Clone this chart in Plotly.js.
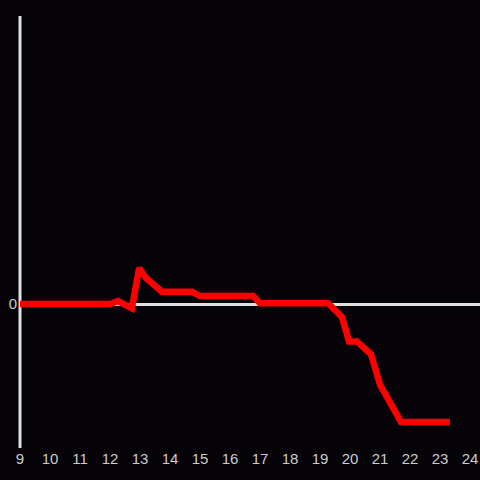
<!DOCTYPE html>
<html>
<head>
<meta charset="utf-8">
<script src="https://cdn.plot.ly/plotly-3.0.1.min.js"></script>
<style>html,body{margin:0;padding:0;background:#050308;}#chart{width:480px;height:480px;}</style>
</head>
<body>
<div id="chart"></div>
<script>
const hours = [9, 12.0, 12.27, 12.73, 12.97, 13.2, 13.73, 14.73, 15.0, 16.77, 17.0, 19.27, 19.73, 19.97, 20.23, 20.7, 21.0, 21.7, 23.33];
const values = [0, 0, 0.02, -0.03, 0.25, 0.18, 0.085, 0.085, 0.055, 0.055, 0.005, 0.005, -0.09, -0.26, -0.26, -0.35, -0.56, -0.82, -0.82];
const xTicks = [9,10,11,12,13,14,15,16,17,18,19,20,21,22,23,24];

Plotly.newPlot('chart', [{
  x: hours, y: values, type: 'scatter', mode: 'lines',
  line: {color: '#ff0000', width: 6.5}, hoverinfo: 'skip'
}], {
  width: 480, height: 480,
  paper_bgcolor: '#050308', plot_bgcolor: '#050308',
  margin: {l: 20, r: 0, t: 16, b: 32},
  showlegend: false,
  font: {family: 'Liberation Sans, Arial, sans-serif', size: 15, color: '#cccccc'},
  shapes: [{type: 'line', xref: 'paper', yref: 'paper', x0: 0, x1: 0, y0: 0, y1: 1, line: {color: '#e0e0e0', width: 3}, layer: 'below'}],
  xaxis: {range: [9, 24.333], tickvals: xTicks, ticktext: xTicks.map(String), showgrid: false, zeroline: false, showline: false, ticks: '', tickfont: {size: 15, color: '#cccccc'}},
  yaxis: {range: [-1, 2], tickvals: [0], ticktext: ['0'], showgrid: false, zeroline: true, zerolinecolor: '#e0e0e0', zerolinewidth: 3, showline: false, ticks: '', ticklabelstandoff: 2, tickfont: {size: 15, color: '#cccccc'}}
}, {displayModeBar: false, staticPlot: true});
</script>
</body>
</html>
